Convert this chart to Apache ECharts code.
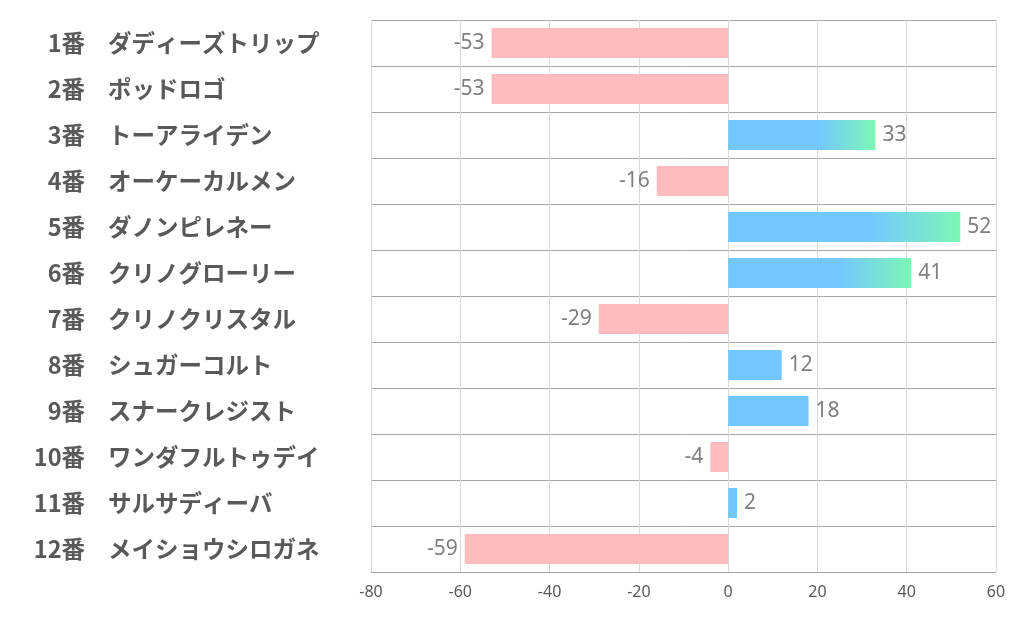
<!DOCTYPE html>
<html><head><meta charset="utf-8">
<script src="https://cdn.jsdelivr.net/npm/echarts@6/dist/echarts.min.js"></script>
<style>html,body{margin:0;padding:0;background:#fff}#c{width:1022px;height:626px}</style>
</head><body><div id="c"></div>
<script>
const numbers = ['1番','2番','3番','4番','5番','6番','7番','8番','9番','10番','11番','12番'];
const names = ['ダディーズトリップ','ポッドロゴ','トーアライデン','オーケーカルメン','ダノンピレネー','クリノグローリー','クリノクリスタル','シュガーコルト','スナークレジスト','ワンダフルトゥデイ','サルサディーバ','メイショウシロガネ'];
const values = [-53, -53, 33, -16, 52, 41, -29, 12, 18, -4, 2, -59];
const xTicks = {min: -80, max: 60, interval: 20};

const FONT = '"Noto Sans CJK JP", "Noto Sans", sans-serif';
const NUMFONT = '"Noto Sans", "Noto Sans CJK JP", sans-serif';
const pink = '#FFBBBD', blue = '#74C6FF', green = '#7DF7B5';

const data = values.map(v => {
  let color;
  if (v < 0) color = pink;
  else if (v >= 30) color = new echarts.graphic.LinearGradient(0, 0, 1, 0, [
    {offset: 0, color: blue}, {offset: 0.6, color: blue}, {offset: 1, color: green}]);
  else color = blue;
  return {
    value: v,
    itemStyle: {color},
    label: {position: v < 0 ? 'left' : 'right'}
  };
});

const labelStyle = {fontSize: 23.5, fontWeight: 'bold', color: '#595959', fontFamily: FONT};

const chart = echarts.init(document.getElementById('c'));
chart.setOption({
  animation: false,
  grid: {left: 371, right: 26, top: 20, bottom: 54, containLabel: false},
  xAxis: {
    type: 'value', min: xTicks.min, max: xTicks.max, interval: xTicks.interval,
    axisLine: {show: false}, axisTick: {show: false},
    axisLabel: {color: '#595959', fontSize: 16, fontFamily: NUMFONT, margin: 12},
    splitLine: {show: true, lineStyle: {color: '#D9D9D9', width: 1}}
  },
  yAxis: [{
    type: 'category', inverse: true, position: 'left',
    data: names,
    axisLine: {show: false}, axisTick: {show: false},
    splitLine: {show: true, lineStyle: {color: '#A6A6A6', width: 1}},
    axisLabel: Object.assign({align: 'left', margin: 263}, labelStyle)
  }, {
    type: 'category', inverse: true, position: 'left',
    data: numbers,
    axisLine: {show: false}, axisTick: {show: false},
    splitLine: {show: false},
    axisLabel: Object.assign({align: 'right', margin: 286}, labelStyle)
  }],
  series: [{
    type: 'bar', data: data, barWidth: 30, yAxisIndex: 0,
    label: {show: true, color: '#7F7F7F', fontSize: 21, fontFamily: NUMFONT, distance: 7}
  }]
});
</script></body></html>
